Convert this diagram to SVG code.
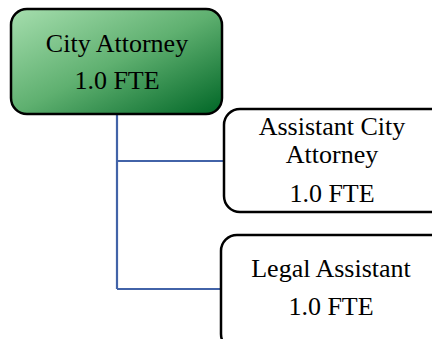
<svg xmlns="http://www.w3.org/2000/svg" width="432" height="339" viewBox="0 0 432 339">
<defs>
<linearGradient id="g" x1="0" y1="0" x2="1" y2="1">
<stop offset="0" stop-color="#a6deae"/>
<stop offset="0.5" stop-color="#5fb070"/>
<stop offset="1" stop-color="#006626"/>
</linearGradient>
</defs>
<style>
.box{stroke:#000;stroke-width:2.5;}
.t{font-family:"Liberation Serif","Times New Roman",serif;font-size:26px;fill:#000;text-anchor:middle;}
.c{stroke:#4263a8;stroke-width:2.2;fill:none;}
</style>
<rect width="432" height="339" fill="#fff"/>
<g id="connectors">
<path class="c" d="M117 114 V289 M117 161 H224 M117 289 H221"/>
</g>
<g id="city-attorney">
<rect class="box" x="11" y="9" width="211" height="105" rx="16" fill="url(#g)"/>
<text class="t" x="117" y="52">City Attorney</text>
<text class="t" x="117" y="89">1.0 FTE</text>
</g>
<g id="assistant-city-attorney">
<rect class="box" x="224" y="109" width="230" height="103" rx="16" fill="#fff"/>
<text class="t" x="332" y="135">Assistant City</text>
<text class="t" x="332" y="163">Attorney</text>
<text class="t" x="332" y="202">1.0 FTE</text>
</g>
<g id="legal-assistant">
<rect class="box" x="221" y="235" width="233" height="115" rx="16" fill="#fff"/>
<text class="t" x="331" y="277">Legal Assistant</text>
<text class="t" x="331" y="315">1.0 FTE</text>
</g>
</svg>
